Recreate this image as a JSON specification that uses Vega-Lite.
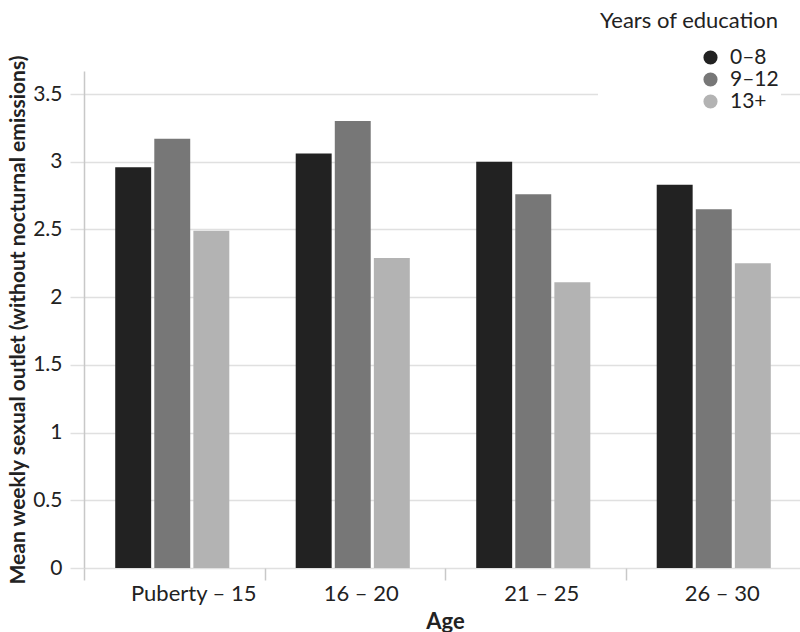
{
  "$schema": "https://vega.github.io/schema/vega-lite/v6.json",
  "width": 722,
  "height": 497,
  "autosize": {"type": "none"},
  "padding": {"left": 84, "top": 71, "right": 0, "bottom": 64},
  "background": "white",
  "config": {"font": "Lato", "view": {"stroke": null}},
  "data": {
    "values": [
      {"age": "Puberty – 15", "edu": "0–8", "value": 2.96},
      {"age": "Puberty – 15", "edu": "9–12", "value": 3.17},
      {"age": "Puberty – 15", "edu": "13+", "value": 2.49},
      {"age": "16 – 20", "edu": "0–8", "value": 3.06},
      {"age": "16 – 20", "edu": "9–12", "value": 3.30},
      {"age": "16 – 20", "edu": "13+", "value": 2.29},
      {"age": "21 – 25", "edu": "0–8", "value": 3.00},
      {"age": "21 – 25", "edu": "9–12", "value": 2.76},
      {"age": "21 – 25", "edu": "13+", "value": 2.11},
      {"age": "26 – 30", "edu": "0–8", "value": 2.83},
      {"age": "26 – 30", "edu": "9–12", "value": 2.65},
      {"age": "26 – 30", "edu": "13+", "value": 2.25}
    ]
  },
  "mark": {"type": "bar"},
  "encoding": {
    "x": {
      "field": "age",
      "type": "nominal",
      "sort": ["Puberty – 15", "16 – 20", "21 – 25", "26 – 30"],
      "scale": {"paddingInner": 0, "paddingOuter": 0},
      "title": "Age",
      "axis": {
        "domain": false,
        "grid": false,
        "ticks": true,
        "tickBand": "extent",
        "tickSize": 12,
        "tickColor": "#c8c8c8",
        "tickWidth": 1.5,
        "labelAngle": 0,
        "labelFontSize": 22,
        "labelColor": "#222222",
        "labelPadding": 3,
        "labelOffset": {"condition": {"test": "datum.value === 'Puberty – 15'", "value": 19}, "value": 6},
        "titleFontSize": 22,
        "titleFontWeight": "bold",
        "titleColor": "#222222",
        "titlePadding": 7
      }
    },
    "xOffset": {
      "field": "edu",
      "type": "nominal",
      "sort": ["0–8", "9–12", "13+"],
      "scale": {"paddingInner": 0.08, "paddingOuter": 0.85, "align": 0.47}
    },
    "y": {
      "field": "value",
      "type": "quantitative",
      "scale": {"domain": [0, 3.67], "nice": false},
      "title": "Mean weekly sexual outlet (without nocturnal emissions)",
      "axis": {
        "values": [0, 0.5, 1, 1.5, 2, 2.5, 3, 3.5],
        "format": "~g",
        "domain": true,
        "domainColor": "#c8c8c8",
        "domainWidth": 1.5,
        "grid": true,
        "gridColor": "#e0e0e0",
        "gridWidth": 1.5,
        "tickColor": "#e0e0e0",
        "tickSize": 14,
        "tickWidth": 1.5,
        "labelFontSize": 21,
        "labelColor": "#222222",
        "labelPadding": 8,
        "titleFontSize": 21,
        "titleFontWeight": "bold",
        "titleColor": "#222222",
        "titlePadding": 4
      }
    },
    "color": {
      "field": "edu",
      "type": "nominal",
      "sort": ["0–8", "9–12", "13+"],
      "scale": {"domain": ["0–8", "9–12", "13+"], "range": ["#222222", "#777777", "#b3b3b3"]},
      "legend": {
        "orient": "none",
        "legendX": 514,
        "legendY": -62,
        "title": "Years of education",
        "titleFontSize": 22,
        "titleFontWeight": "normal",
        "titleColor": "#222222",
        "titlePadding": 14,
        "labelFontSize": 21,
        "labelColor": "#222222",
        "symbolType": "circle",
        "symbolSize": 200,
        "symbolOffset": 100,
        "labelOffset": 9,
        "rowPadding": 0,
        "fillColor": "white",
        "padding": 2
      }
    }
  }
}
